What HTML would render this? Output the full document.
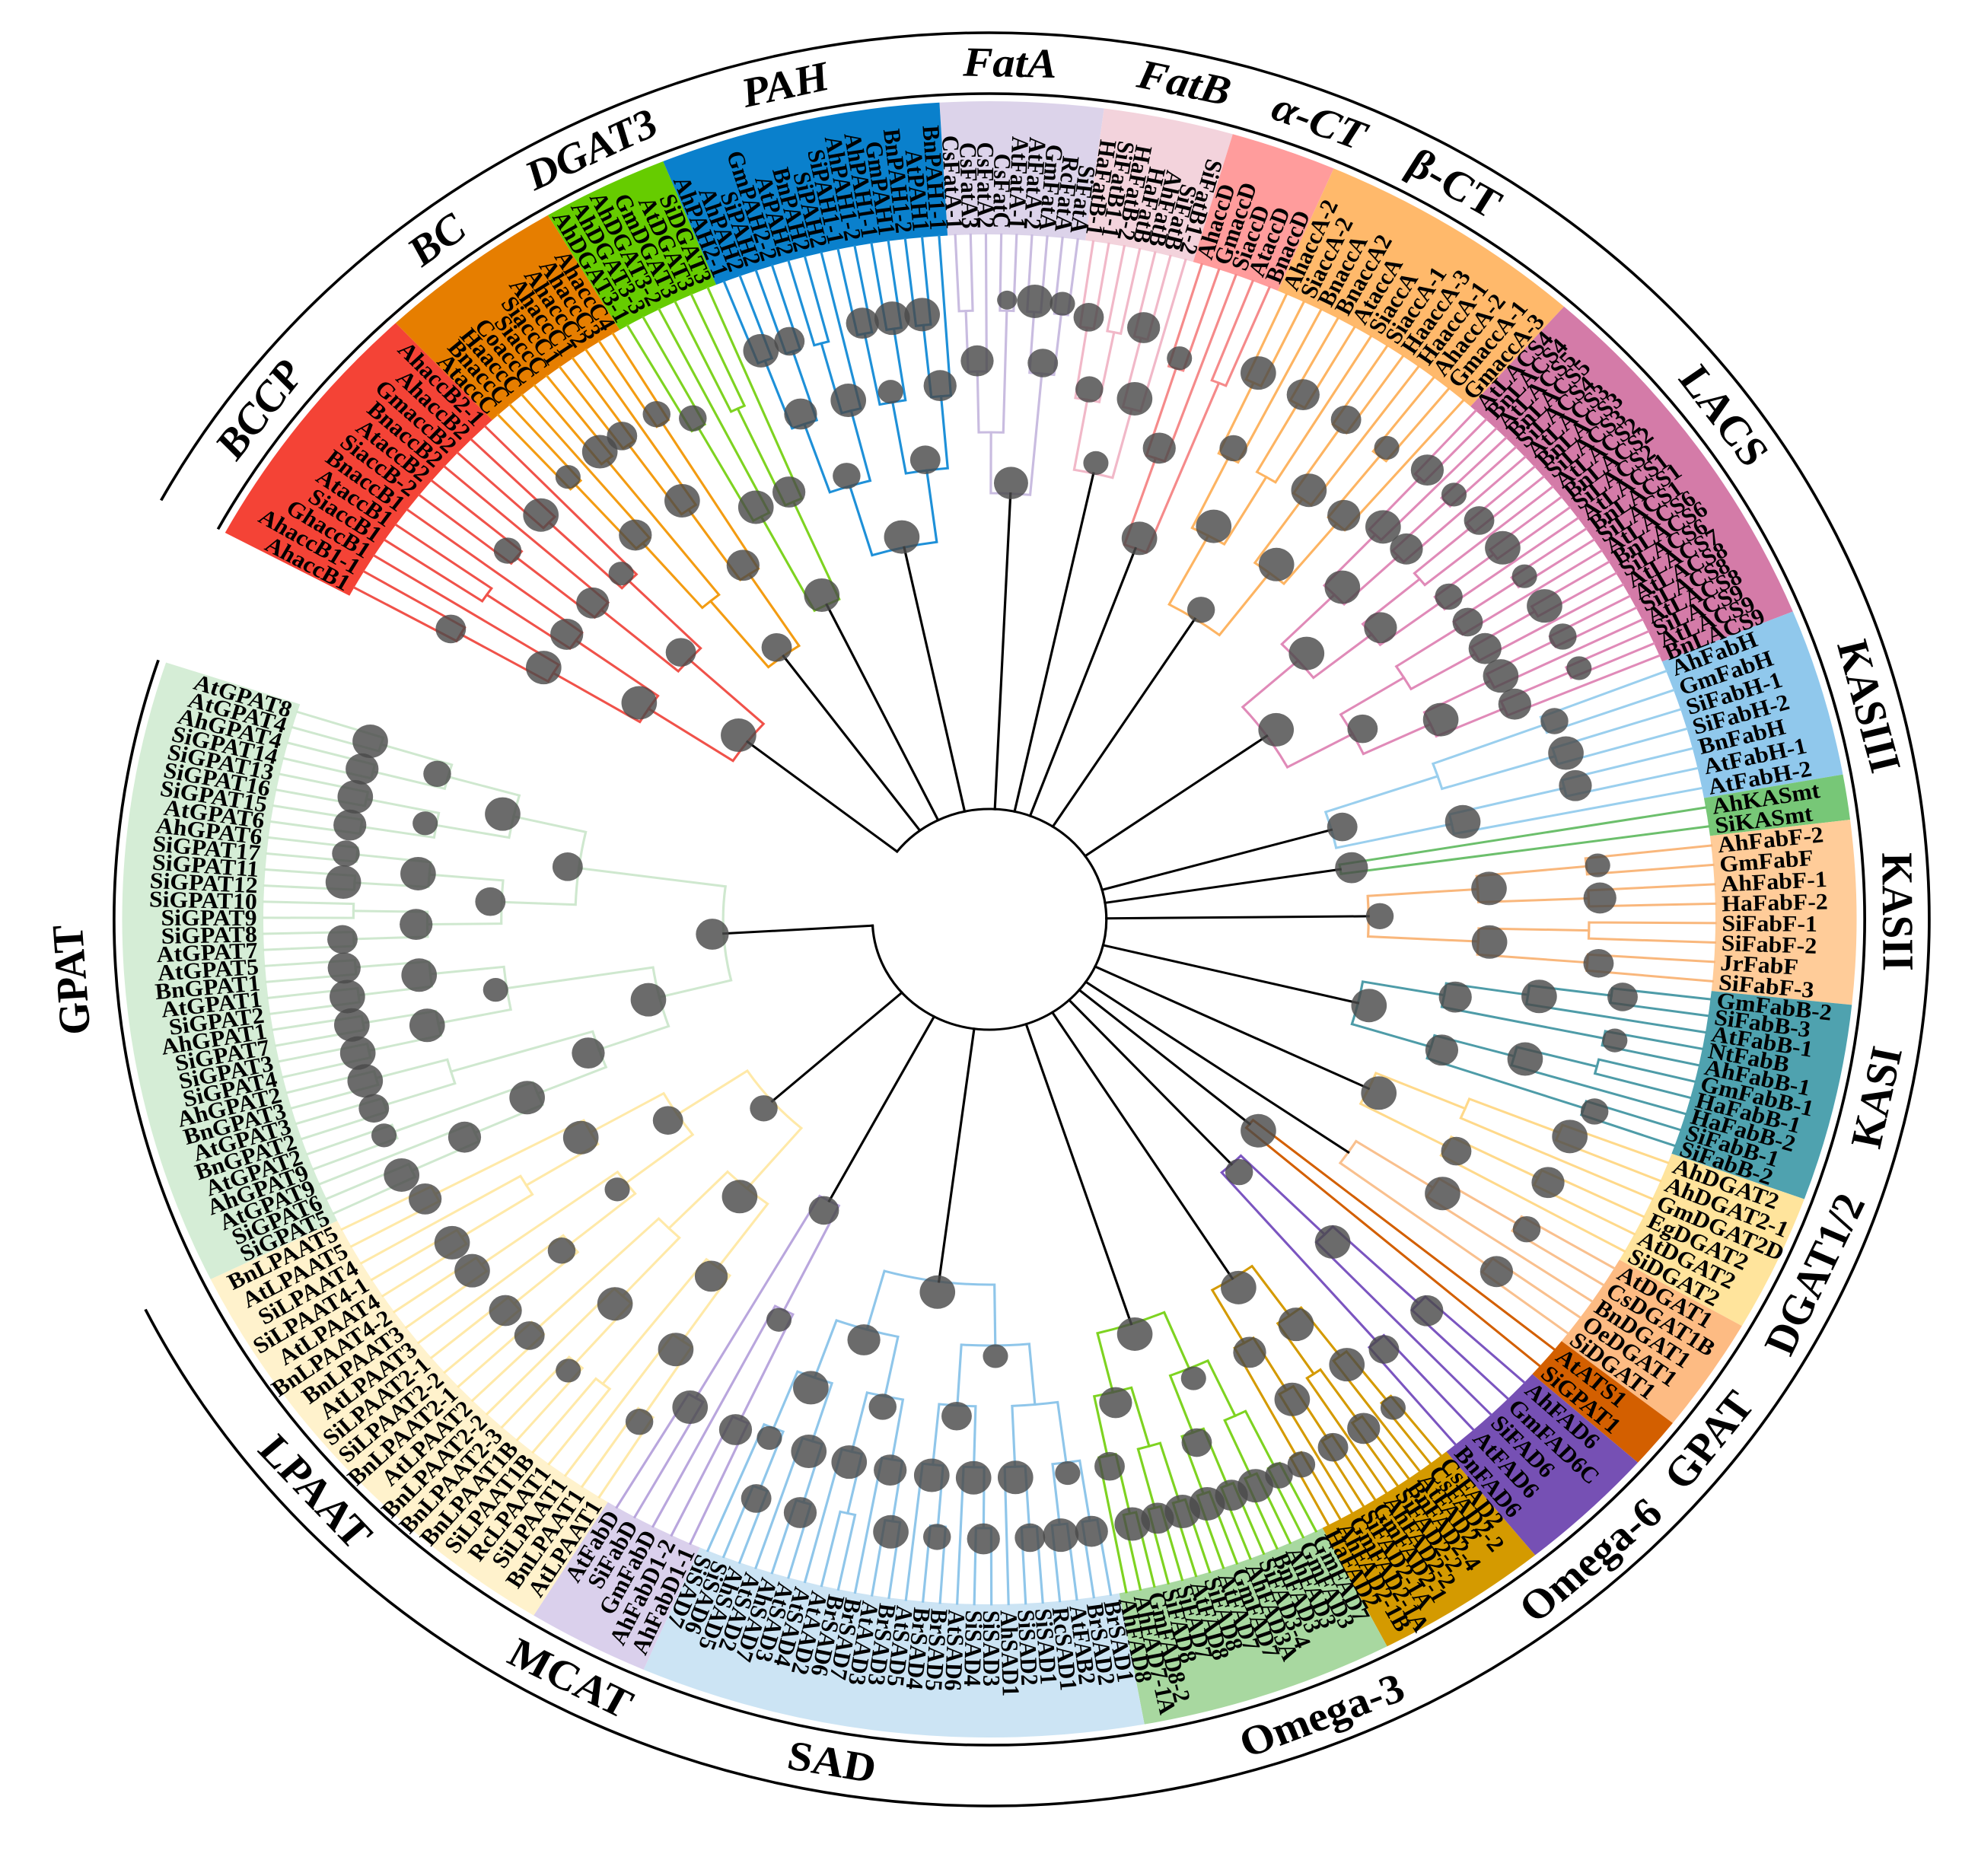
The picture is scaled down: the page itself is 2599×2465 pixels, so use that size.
<!DOCTYPE html>
<html><head><meta charset="utf-8"><title>Circular phylogenetic tree</title>
<style>html,body{margin:0;padding:0;background:#fff}svg{display:block}</style></head>
<body>
<svg id="chart" width="2599" height="2465" viewBox="0 0 2599 2465" xmlns="http://www.w3.org/2000/svg">
<rect width="2599" height="2465" fill="#fff"/>
<g id="root" transform="translate(1300,1208) scale(1.06,1)"></g>
</svg>
<script>
// ---- data arrays ----
const cladeIds = ["FatA","FatB","aCT","bCT","LACS","KASIII","KASmt","KASII","KASI","DGAT2","DGAT1","ATS","O6","FAD2","O3","SAD","MCAT","LPAAT","GPAT","BCCP","BC","DGAT3","PAH"];
const cladeStart = [-3.3,7.6,16.3,23.4,41.5,67.9,79.8,83,96,110,119.8,128,131.6,141,152.7,169.7,203.5,211.7,243.9,298.2,316.8,329.4,337.9];
const cladeEnd   = [7.6,16.3,23.4,41.5,67.9,79.8,83,96,110,119.8,128,131.6,141,152.7,169.7,203.5,211.7,243.9,288.3,316.8,329.4,337.9,356.7];
const bandColors = ["#DCD3EA","#F3D3DC","#FF9C9C","#FFB96B","#D47BA8","#90C8EC","#77C777","#FFCC99","#4FA2AF","#FFE49C","#FDBB83","#D35F00","#7650B4","#D49A00","#A8D8A0","#CCE4F4","#DAD0EC","#FFF2CC","#D5EDD6","#F44336","#E67E00","#66CC00","#0A80CC"];
const branchColors = ["#C9BCE0","#F1B8C8","#F58A8A","#FDB462","#E08AB8","#9ACFEE","#6CBF6C","#F9B77C","#4E9CA8","#FFD98A","#F9C08E","#D35F00","#7B55C0","#D49A00","#7ED321","#8FC6EA","#B9A6DD","#FFE9A8","#CFE8CF","#F0524A","#F39C12","#7ED321","#1E90D8"];
const cladeRootR = [560,600,520,470,420,440,440,470,470,520,540,420,440,560,560,480,420,360,330,380,430,460,500];
const leaves = [
 ["CsFatA-1","CsFatA3","CsFatA2","CsFatC","AtFatA-1","AtFatA-2","GmFatA","RcFatA","SiFatA"],
 ["HaFatB-1","SiFatB1-1","HaFatB-2","HaFatB","AhFatB","SiFatB","SiFatB1-2"],
 ["AhaccD","GmaccD","SiaccD","AtaccD","BnaccD"],
 ["AhaccA-2","SiaccA-2","BnaccA","BnaccA2","AtaccA","SiaccA","SiaccA-1","HaaccA-3","HaaccA-1","AhaccA-2","GmaccA-1","GmaccA-3"],
 ["AtLACS4","BnLACS4","AtLACS5","BnLACS5","SiLACS4","AtLACS3","BnLACS3","SiLACS3","AtLACS2","BnLACS2","SiLACS2","AtLACS1","BnLACS1","SiLACS1","AtLACS6","BnLACS6","SiLACS6","AtLACS7","AtLACS8","SiLACS8","AtLACS8","SiLACS9","AtLACS9","BnLACS9"],
 ["AhFabH","GmFabH","SiFabH-1","SiFabH-2","BnFabH","AtFabH-1","AtFabH-2"],
 ["AhKASmt","SiKASmt"],
 ["AhFabF-2","GmFabF","AhFabF-1","HaFabF-2","SiFabF-1","SiFabF-2","JrFabF","SiFabF-3"],
 ["GmFabB-2","SiFabB-3","AtFabB-1","NtFabB","AhFabB-1","GmFabB-1","HaFabB-1","HaFabB-2","SiFabB-1","SiFabB-2"],
 ["AhDGAT2","AhDGAT2-1","GmDGAT2D","EgDGAT2","AtDGAT2","SiDGAT2"],
 ["AtDGAT1","CsDGAT1B","BnDGAT1","OeDGAT1","SiDGAT1"],
 ["AtATS1","SiGPAT1"],
 ["AhFAD6","GmFAD6C","SiFAD6","AtFAD6","BnFAD6"],
 ["CsFAD2","CsFAD2-2","AtFAD2","BnFAD2-4","SiFAD2-2","AhFAD2-2","GmFAD2-1","SiFAD2-1A","GmFAD2-1A","AhFAD2-1B","HaFAD2"],
 ["GmFAD7","GmFAD3","AhFAD3","BnFAD3","SiFAD3-4","AhFAD3A","GmFAD7","AtFAD7","SiFAD8","AtFAD8","SiFAD7","SiFAD8","GmFAD8-2","AhFAD7-1A","AhFAD8"],
 ["BrSAD1","BrSAD2","AtFAB2","RcSAD1","SiSAD1","SiSAD2","AhSAD1","SiSAD3","SiSAD4","AtSAD6","BrSAD5","BrSAD4","AtSAD5","BrSAD3","AtAAD3","BrSAD7","BrSAD6","AtAAD2","AtSAD4","AtSAD3","AhSAD7","AtSAD2","AhSAD5","SiSAD6","SiSAD7"],
 ["AhFabD1-1","AhFabD1-2","GmFabD","SiFabD","AtFabD"],
 ["AtLPAAT1","BnLPAAT1","SiLPAAT1","RcLPAAT1","SiLPAAT1B","BnLPAAT1B","BnLPAAT2-3","BnLPAAT2-2","AtLPAAT2","BnLPAAT2-1","SiLPAAT2-2","SiLPAAT2-1","AtLPAAT3","BnLPAAT3","BnLPAAT4-2","AtLPAAT4","SiLPAAT4-1","SiLPAAT4","AtLPAAT5","BnLPAAT5"],
 ["SiGPAT5","SiGPAT6","AtGPAT9","AhGPAT9","AtGPAT2","BnGPAT2","AtGPAT3","BnGPAT3","AhGPAT2","SiGPAT4","SiGPAT3","SiGPAT7","AhGPAT1","SiGPAT2","AtGPAT1","BnGPAT1","AtGPAT5","AtGPAT7","SiGPAT8","SiGPAT9","SiGPAT10","SiGPAT12","SiGPAT11","SiGPAT17","AhGPAT6","AtGPAT6","SiGPAT15","SiGPAT16","SiGPAT13","SiGPAT14","AhGPAT4","AtGPAT4","AtGPAT8"],
 ["AhaccB1","AhaccB1-1","GhaccB1","SiaccB1","AtaccB1","BnaccB1","SiaccB-2","AtaccB2","BnaccB2","GmaccB2","AhaccB2","AhaccB2-1"],
 ["AtaccC","BnaccC","HaaccC","CoaccC","SiaccC","SiaccC1","AhaccC1","AhaccC2","AhaccC3","AhaccC4"],
 ["AhDGAT3-1","AhDGAT3-3","AhDGAT3-2","GmDGAT3","AtDGAT3","SiDGAT3"],
 ["AhPAH2-1","AhPAH2","SiPAH2","GmPAH2-2","AtPAH2","BnPAH2","SiPAH2","SiPAH1-1","AhPAH1-2","AhPAH1-1","GmPAH1","BnPAH1-2","AtPAH1","BnPAH1-1"]
];
// bootstrap support per internal node (post-order), 0 = not shown
const support = [
 [0,90,40,0,100,60,80,95],
 [80,0,70,90,100,60],
 [60,90,0,100],
 [100,70,90,0,100,80,100,60,90,100,70],
 [90,100,60,90,100,80,0,100,70,90,100,60,80,100,90,0,70,100,60,90,100,80,100],
 [70,100,0,90,100,80],
 [90],
 [60,90,100,0,80,100,70],
 [80,100,60,90,0,100,70,90,100],
 [100,0,90,80,100],
 [70,100,90,0],
 [100],
 [90,100,80,70],
 [60,100,90,0,100,80,100,70,90,100],
 [70,100,0,90,100,80,60,100,90,0,100,80,90,100],
 [90,100,60,80,100,0,90,100,70,100,80,60,100,90,0,100,70,90,100,80,60,100,90,100],
 [90,60,100,80],
 [70,100,0,90,60,100,80,0,100,90,70,100,60,100,0,90,100,80,70],
 [100,90,60,100,80,100,0,90,100,100,100,100,90,100,60,100,80,0,90,100,70,100,80,90,100,60,90,100,70,100,80,90],
 [80,100,0,90,100,70,90,100,60,80,100],
 [60,90,100,0,80,100,70,90,80],
 [70,100,0,90,100],
 [100,80,90,0,100,70,90,100,60,100,90,80,100]
];
const groupLabels = ["FatA","FatB","α-CT","β-CT","LACS","KASIII","KASII","KASI","DGAT1/2","GPAT","Omega-6","Omega-3","SAD","MCAT","LPAAT","GPAT","BCCP","BC","DGAT3","PAH"];
const groupLabelAngles = [1.3,12.4,21.3,30.8,54,75.6,89.5,102,114.5,127.5,138.5,158.5,190,207.5,228,266,306.5,322.5,334,347];
const groupLabelItalic = [1,1,1,0,0,0,0,0,0,0,0,0,0,0,0,0,1,1,1,1];

// ---- geometry ----
const TIP=900, BAND_OUT=1075, ARC_IN=1085, ARC_OUT=1165, LABEL_R=1125, ROOT_R=145;
const NS="http://www.w3.org/2000/svg";
const g=document.getElementById('root');
function P(r,d){const a=d*Math.PI/180;return [r*Math.sin(a),-r*Math.cos(a)];}
function f(v){return v.toFixed(2);}
function arcPath(r,a1,a2){const s=P(r,a1),e=P(r,a2);const lg=(a2-a1)>180?1:0;return `M${f(s[0])},${f(s[1])}A${r},${r} 0 ${lg} 1 ${f(e[0])},${f(e[1])}`;}
function radial(r1,r2,a){const s=P(r1,a),e=P(r2,a);return `M${f(s[0])},${f(s[1])}L${f(e[0])},${f(e[1])}`;}
function sector(r1,r2,a1,a2){const o1=P(r2,a1),o2=P(r2,a2),i2=P(r1,a2),i1=P(r1,a1);const lg=(a2-a1)>180?1:0;
 return `M${f(o1[0])},${f(o1[1])}A${r2},${r2} 0 ${lg} 1 ${f(o2[0])},${f(o2[1])}L${f(i2[0])},${f(i2[1])}A${r1},${r1} 0 ${lg} 0 ${f(i1[0])},${f(i1[1])}Z`;}
function mk(tag,attrs,parent){const el=document.createElementNS(NS,tag);for(const k in attrs)el.setAttribute(k,attrs[k]);(parent||g).appendChild(el);return el;}

const bandsG=mk('g',{});  
const branchG=mk('g',{fill:'none','stroke-width':3,'stroke-linecap':'square'});
 
const dotG=mk('g',{fill:'#4a4a4a','fill-opacity':0.82});
 
const labelG=mk('g',{'font-family':'"Liberation Serif", serif','font-weight':'bold','font-size':30,fill:'#000'});
 

function leafAngle(c,i){const n=leaves[c].length;return cladeStart[c]+(i+0.5)*(cladeEnd[c]-cladeStart[c])/n;}
function height(lo,hi){if(lo===hi)return 0;const m=Math.floor((lo+hi)/2);return 1+Math.max(height(lo,m),height(m+1,hi));}

const stems=[];
cladeIds.forEach((id,c)=>{
  const band=mk('path',{d:sector(TIP,BAND_OUT,cladeStart[c],cladeEnd[c]),fill:bandColors[c]},bandsG);
  
  
  const H=height(0,leaves[c].length-1);
  const Rc=cladeRootR[c];
  const step=H>0?(TIP-20-Rc)/H:0;
  let nodeIdx=0;
  const col=branchColors[c];
  function build(lo,hi){
    if(lo===hi){return {r:TIP,a:leafAngle(c,lo),h:0};}
    const m=Math.floor((lo+hi)/2);
    const c1=build(lo,m),c2=build(m+1,hi);
    const h=1+Math.max(c1.h,c2.h);
    const r=TIP-20-h*step;
    const p=mk('path',{d:arcPath(r,c1.a,c2.a)+radial(r,c1.r,c1.a)+radial(r,c2.r,c2.a),stroke:col},branchG);
    
    
    const a=(c1.a+c2.a)/2;
    const v=(support[c]||[])[nodeIdx++]||0;
    if(v>0){const q=P(r+14,a);const d=mk('circle',{cx:f(q[0]),cy:f(q[1]),r:f(6+v*0.16)},dotG);
      
      }
    return {r:r,a:a,h:h};
  }
  const root=build(0,leaves[c].length-1);
  stems.push(root.a<290?root.a+360:root.a);
  const s=mk('path',{d:radial(ROOT_R,root.r,root.a),stroke:'#000'},branchG);
  
  
  leaves[c].forEach((name,i)=>{
    const a=leafAngle(c,i);const am=((a%360)+360)%360;
    const pt=P(TIP+8,a);const out=(am>=17&&am<204);
    const t=mk('text',{x:f(pt[0]),y:f(pt[1]),'dominant-baseline':'central','text-anchor':out?'start':'end',
      transform:`rotate(${f(out?a-90:a+90)} ${f(pt[0])} ${f(pt[1])})`},labelG);
    
    
    t.textContent=name;
  });
});
const sMin=Math.min(...stems),sMax=Math.max(...stems);
const ra=mk('path',{d:arcPath(ROOT_R,sMin,sMax),stroke:'#000'},branchG);


const ringG=mk('g',{fill:'none',stroke:'#000','stroke-width':3.5});
 
const r1=mk('path',{d:arcPath(ARC_IN,298.2,288.3+360)},ringG);
 
const r2=mk('path',{d:arcPath(ARC_OUT,298.2,243.9+360)},ringG);
 
const glG=mk('g',{'font-family':'"Liberation Serif", serif','font-weight':'bold','font-size':55,fill:'#000'});
 
groupLabels.forEach((txt,i)=>{
  const a=groupLabelAngles[i];const am=((a%360)+360)%360;
  const rad=(am>243.9&&am<290)?1140:LABEL_R;
  const pt=P(rad,a);const rot=(am>100&&am<250)?a-180:a;
  const t=mk('text',{x:f(pt[0]),y:f(pt[1]),'text-anchor':'middle','dominant-baseline':'central',
    style:'font-style:'+(groupLabelItalic[i]?'italic':'normal')+';font-family:"Liberation Serif",serif',
    transform:`rotate(${f(rot)} ${f(pt[0])} ${f(pt[1])})`},glG);
  
  
  t.textContent=txt;
});
</script>
</body></html>
